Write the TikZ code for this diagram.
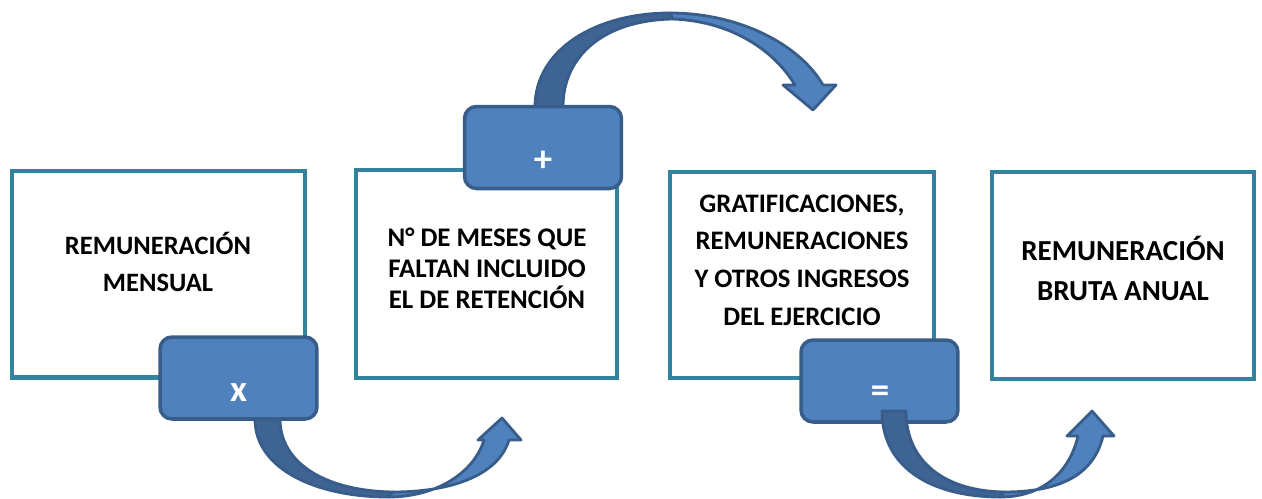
\documentclass[tikz,border=0pt]{standalone}
\usepackage{fontspec}
\setmainfont{Carlito}
\definecolor{tealb}{RGB}{49,132,155}
\definecolor{opfill}{RGB}{79,129,189}
\definecolor{opline}{RGB}{56,93,138}
\definecolor{opdark}{RGB}{62,100,148}
\begin{document}
\begin{tikzpicture}[x=0.02cm,y=-0.02cm,
	caja/.style={draw=tealb,line width=2.3pt,fill=white,inner sep=0pt},
	oper/.style={draw=opline,line width=2pt,fill=opfill,rounded corners=0.24cm,inner sep=0pt,minimum width=3.14cm,minimum height=1.64cm},
	signo/.style={text=white,font=\bfseries\fontsize{21}{21}\selectfont,inner sep=0pt},
	rotulo/.style={align=center,inner sep=0pt},
	flecha/.style={draw=opline,line width=1.6pt,line join=round,fill=opfill},
	flechaosc/.style={draw=opline,line width=1.6pt,line join=round,fill=opdark}]
	\useasboundingbox (0,0) rectangle (1262,498);
	% cajas
	\node[caja,minimum width=5.86cm,minimum height=4.14cm] (b1) at (158.5,274) {};
	\node[caja,minimum width=5.22cm,minimum height=4.16cm] (b2) at (486.5,274) {};
	\node[caja,minimum width=5.28cm,minimum height=4.12cm] (b3) at (802,275) {};
	\node[caja,minimum width=5.24cm,minimum height=4.14cm] (b4) at (1123,275.5) {};
	\node[rotulo,font=\bfseries\fontsize{15.1}{21}\selectfont] (t1) at (158,262) {REMUNERACIÓN\\MENSUAL};
	\node[rotulo,font=\bfseries\fontsize{15.3}{17.6}\selectfont] (t2) at (487,268) {N° DE MESES QUE\\FALTAN INCLUIDO\\EL DE RETENCIÓN};
	\node[rotulo,font=\bfseries\fontsize{15.2}{21.5}\selectfont] (t3) at (802,260) {GRATIFICACIONES,\\REMUNERACIONES\\Y OTROS INGRESOS\\DEL EJERCICIO};
	\node[rotulo,font=\bfseries\fontsize{16.5}{22.7}\selectfont] (t4) at (1123,268) {REMUNERACIÓN\\BRUTA ANUAL};
	% flecha de abajo (x)
	\draw[flechaosc] (255,419) .. controls (255,470) and (318,497) .. (388,497) -- (393,492) .. controls (325,491) and (280,463) .. (280,419) -- cycle;
	\draw[flecha] (388,497) .. controls (440,497) and (475,470) .. (484,440) -- (478,440) -- (502,418) -- (521,440) -- (509,440) .. controls (498,476) and (450,492) .. (393,492) -- cycle;
	\node[oper] (opx) at (238.5,378) {};
	\node[signo] (sx) at (238.5,393) {x};
	% flecha de arriba (+)
	\draw[flechaosc] (535,107) .. controls (535,50) and (595,13) .. (670,13) -- (673,19) .. controls (605,20) and (563,55) .. (563,107) -- cycle;
	\draw[flecha] (670,13) .. controls (740,13) and (800,45) .. (823,85) -- (836,85) -- (813,110) -- (783,85) -- (795,85) .. controls (772,47) and (727,21) .. (673,19) -- cycle;
	\node[oper] (opmas) at (543,147.5) {};
	\node[signo] (smas) at (543,161) {+};
	% flecha de abajo (=)
	\node[oper] (opigual) at (879.5,381) {};
	\node[signo] (sigual) at (880,394) {=};
	\draw[flechaosc] (882,411) .. controls (882,470) and (935,497) .. (1000,497) -- (1004,492) .. controls (945,491) and (906,462) .. (906,411) -- cycle;
	\draw[flecha] (1000,497) .. controls (1045,497) and (1070,470) .. (1078,436) -- (1067,436) -- (1092,411) -- (1114,436) -- (1103,436) .. controls (1093,478) and (1055,492) .. (1004,492) -- cycle;
\end{tikzpicture}
\end{document}
